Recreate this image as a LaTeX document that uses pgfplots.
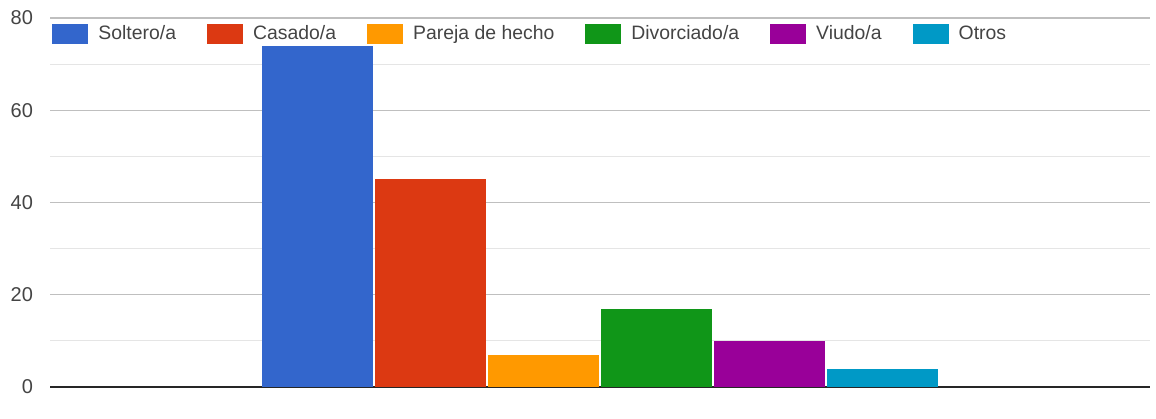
\documentclass[border=0pt]{standalone}
\usepackage{pgfplots}
\pgfplotsset{compat=1.18}
\usepackage{fontspec}
\setmainfont{Liberation Sans}
\definecolor{gblue}{HTML}{3366CC}
\definecolor{gred}{HTML}{DC3912}
\definecolor{gorange}{HTML}{FF9900}
\definecolor{ggreen}{HTML}{109618}
\definecolor{gpurple}{HTML}{990099}
\definecolor{gcyan}{HTML}{0099C6}
\definecolor{txt}{HTML}{444444}
\begin{document}
\begin{tikzpicture}
\begin{axis}[
  scale only axis,
  width=550pt, height=184.5pt,
  ybar, bar shift=0pt, bar width=0.98,
  xmin=-4.87, xmax=4.87,
  ymin=0, ymax=80,
  ytick={0,20,40,60,80},
  minor ytick={10,30,50,70},
  xtick=\empty,
  ymajorgrids, yminorgrids,
  major grid style={draw=black!25, line width=0.6pt},
  minor grid style={draw=black!10, line width=0.6pt},
  axis x line*=bottom, axis y line*=left,
  y axis line style={draw=none},
  x axis line style={draw=black!85, line width=1pt},
  tick style={draw=none},
  yticklabel style={font=\fontsize{10}{12}\selectfont, text=txt, xshift=-5pt},
  /pgf/number format/assume math mode=true,
  legend columns=6,
  legend style={at={(0,1)}, anchor=west, xshift=1pt, yshift=-8pt, draw=none, fill=none,
    inner xsep=0pt, inner ysep=1pt,
    font=\fontsize{9.7}{11.5}\selectfont, text=txt,
    /tikz/every odd column/.append style={column sep=5pt},
    /tikz/every even column/.append style={column sep=15.5pt},
    nodes={inner xsep=0pt}},
  legend image code/.code={\fill[#1] (0pt,-5pt) rectangle (18pt,5pt);},
  every axis plot/.append style={draw=none},
  clip=false,
]
\addplot[fill=gblue] coordinates {(-2.5,74)};
\addplot[fill=gred] coordinates {(-1.5,45)};
\addplot[fill=gorange] coordinates {(-0.5,7)};
\addplot[fill=ggreen] coordinates {(0.5,17)};
\addplot[fill=gpurple] coordinates {(1.5,10)};
\addplot[fill=gcyan] coordinates {(2.5,4)};
\legend{Soltero/a, Casado/a, Pareja de hecho, Divorciado/a, Viudo/a, Otros}
\end{axis}
\pgfresetboundingbox
\path[use as bounding box] (current axis.south west) ++(-25pt,-15.5pt) rectangle ([xshift=3pt,yshift=9pt]current axis.north east);
\end{tikzpicture}
\end{document}
